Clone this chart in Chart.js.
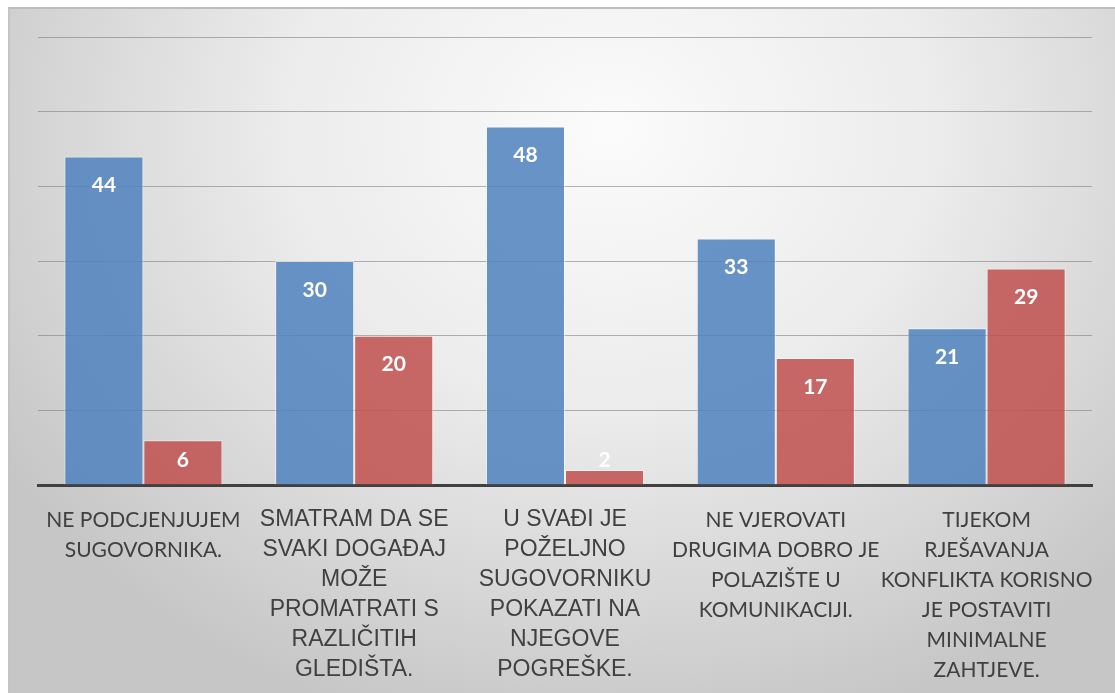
<!DOCTYPE html>
<html>
<head>
<meta charset="utf-8">
<script src="https://cdn.jsdelivr.net/npm/chart.js"></script>
<style>
  html, body { margin: 0; padding: 0; background: #fff; }
  #wrap { position: relative; width: 1115px; height: 693px; overflow: hidden; }
  #panel {
    position: absolute; left: 8px; top: 7px; right: 0; bottom: 0;
    border-top: 2px solid #bdbdbd; border-left: 2px solid #c4c4c4;
    background: radial-gradient(ellipse 720px 620px at 600px 120px, #fbfbfb 0%, #ececec 45%, #d4d4d4 80%, #c6c6c6 100%);
  }
  #chart { position: absolute; left: 0; top: 0; }
</style>
</head>
<body>
<div id="wrap">
  <div id="panel"></div>
  <canvas id="chart" width="1115" height="693"></canvas>
</div>
<script>
  const categories = [
    ['NE PODCJENJUJEM', 'SUGOVORNIKA.'],
    ['SMATRAM DA SE', 'SVAKI DOGAĐAJ', 'MOŽE', 'PROMATRATI S', 'RAZLIČITIH', 'GLEDIŠTA.'],
    ['U SVAĐI JE', 'POŽELJNO', 'SUGOVORNIKU', 'POKAZATI NA', 'NJEGOVE', 'POGREŠKE.'],
    ['NE VJEROVATI', 'DRUGIMA DOBRO JE', 'POLAZIŠTE U', 'KOMUNIKACIJI.'],
    ['TIJEKOM', 'RJEŠAVANJA', 'KONFLIKTA KORISNO', 'JE POSTAVITI', 'MINIMALNE', 'ZAHTJEVE.']
  ];
  const seriesA = [44, 30, 48, 33, 21];
  const seriesB = [6, 20, 2, 17, 29];
  const yTicks = [0, 10, 20, 30, 40, 50, 60];
  // labels 2 and 3 are set in Arial in the original, the rest in a Calibri-like face
  const arialLabels = [1, 2];

  const valueLabels = {
    id: 'valueLabels',
    afterDatasetsDraw(chart) {
      const ctx = chart.ctx;
      const base = chart.scales.y.getPixelForValue(0);
      ctx.save();
      ctx.fillStyle = '#ffffff';
      ctx.font = 'bold 21px Lato, "Open Sans", sans-serif';
      ctx.textAlign = 'center';
      ctx.textBaseline = 'middle';
      chart.data.datasets.forEach((ds, i) => {
        chart.getDatasetMeta(i).data.forEach((bar, j) => {
          const y = Math.min(bar.y + 29, base - 25);
          ctx.fillText(String(ds.data[j]), bar.x, y);
        });
      });
      ctx.restore();
    }
  };

  new Chart(document.getElementById('chart'), {
    type: 'bar',
    data: {
      labels: categories,
      datasets: [
        { data: seriesA, backgroundColor: 'rgba(79,129,189,0.85)', borderColor: 'rgba(255,255,255,0.55)', borderWidth: 1 },
        { data: seriesB, backgroundColor: 'rgba(192,80,77,0.85)', borderColor: 'rgba(255,255,255,0.55)', borderWidth: 1 }
      ]
    },
    options: {
      responsive: false,
      animation: false,
      layout: { padding: { left: 38, right: 23, top: 37, bottom: 0 } },
      datasets: { bar: { categoryPercentage: 0.75, barPercentage: 1 } },
      plugins: { legend: { display: false }, tooltip: { enabled: false } },
      scales: {
        x: {
          grid: { display: false },
          border: { color: '#404040', width: 3 },
          afterFit(scale) { scale.height = 693 - 485; },
          ticks: {
            color: '#404040',
            padding: 12,
            maxRotation: 0,
            autoSkip: false,
            font(ctx) {
              return arialLabels.includes(ctx.index)
                ? { family: '"Liberation Sans", Arial, sans-serif', size: 23, lineHeight: '30px' }
                : { family: 'Lato, "Open Sans", sans-serif', size: 21, lineHeight: '30px' };
            }
          }
        },
        y: {
          min: yTicks[0],
          max: yTicks[yTicks.length - 1],
          afterBuildTicks(scale) { scale.ticks = yTicks.map(v => ({ value: v })); },
          ticks: { display: false },
          border: { display: false },
          grid: {
            drawTicks: false,
            lineWidth: 1,
            color(ctx) { return ctx.tick && ctx.tick.value === 0 ? 'rgba(0,0,0,0)' : 'rgba(120,120,120,0.55)'; }
          },
          afterFit(scale) { scale.width = 0; }
        }
      }
    },
    plugins: [valueLabels]
  });
</script>
</body>
</html>
